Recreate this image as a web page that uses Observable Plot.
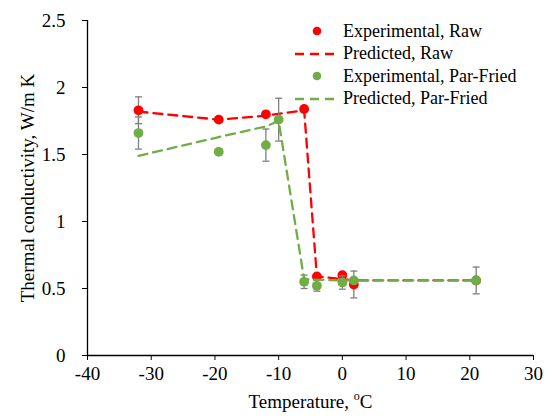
<!DOCTYPE html>
<html>
<head>
<meta charset="utf-8">
<script src="https://cdn.jsdelivr.net/npm/d3@7"></script>
<script src="https://cdn.jsdelivr.net/npm/@observablehq/plot@0.6"></script>
<style>
  html, body { margin: 0; padding: 0; background: #fff; }
  #wrap { position: relative; width: 552px; height: 420px; font-family: "Liberation Serif", "Times New Roman", serif; }
  #legend { position: absolute; left: 292px; top: 20px; font-size: 18px; color: #000; }
  #legend .row { display: flex; align-items: center; height: 22.5px; }
  #legend .sym { width: 50px; height: 22px; display: flex; align-items: center; justify-content: center; }
  #legend svg { display: block; }
  #legend .lab { margin-left: 1px; white-space: nowrap; }
</style>
</head>
<body>
<div id="wrap"></div>
<script>
// ---- data ----
const tempRaw   = [-32, -19.4, -12, -6, -4, 0, 1.8, 21];
const kRawExp   = [1.83, 1.76, 1.80, 1.84, 0.59, 0.60, 0.53, 0.56];
const kRawErr   = [0.10, 0, 0, 0, 0, 0, 0.10, 0.10];
const kRawPred  = [1.82, 1.76, 1.79, 1.83, 0.59, 0.57, 0.56, 0.56];

const tempPF    = [-32, -19.4, -12, -10, -6, -4, 0, 1.8, 21];
const kPFExp    = [1.66, 1.52, 1.57, 1.76, 0.55, 0.52, 0.545, 0.56, 0.56];
const kPFErr    = [0.12, 0, 0.12, 0.16, 0.05, 0.04, 0.05, 0, 0];
const kPFPred   = [1.49, 1.63, 1.71, 1.75, 0.57, 0.565, 0.56, 0.56, 0.56];

const xTicks = [-40, -30, -20, -10, 0, 10, 20, 30];
const yTicks = [0, 0.5, 1, 1.5, 2, 2.5];
const seriesNames = ["Experimental, Raw", "Predicted, Raw", "Experimental, Par-Fried", "Predicted, Par-Fried"];
const xTitle = "Temperature, oC";
const yTitle = "Thermal conductivity, W/m K";

// ---- build tables ----
const raw = tempRaw.map((t, i) => ({t, k: kRawExp[i], e: kRawErr[i], p: kRawPred[i]}));
const pf  = tempPF.map((t, i) => ({t, k: kPFExp[i], e: kPFErr[i], p: kPFPred[i]}));
const rawE = raw.filter(d => d.e > 0);
const pfE  = pf.filter(d => d.e > 0);

const RED = "#ff0000", GREEN = "#70ad47", GRAY = "#7f7f7f";
const FONT = "Liberation Serif, Times New Roman, serif";
const cap = { draw(ctx) { ctx.moveTo(-3.5, 0); ctx.lineTo(3.5, 0); } };

function errMarks(data) {
  return [
    Plot.ruleX(data, {x: "t", y1: d => d.k - d.e, y2: d => d.k + d.e, stroke: GRAY, strokeWidth: 1.3}),
    Plot.dot(data, {x: "t", y: d => d.k + d.e, symbol: cap, stroke: GRAY, strokeWidth: 1.3, fill: "none", r: 3}),
    Plot.dot(data, {x: "t", y: d => d.k - d.e, symbol: cap, stroke: GRAY, strokeWidth: 1.3, fill: "none", r: 3})
  ];
}

const chart = Plot.plot({
  width: 552, height: 420,
  marginLeft: 87, marginRight: 19, marginTop: 20, marginBottom: 65,
  style: {fontFamily: FONT, fontSize: "19px", color: "#000", background: "#fff", overflow: "visible"},
  x: {domain: [-40, 30]},
  y: {domain: [0, 2.5]},
  marks: [
    Plot.axisX({ticks: xTicks, tickFormat: d => String(d), tickSize: 5, tickPadding: 6, label: null, stroke: "#000", fontSize: 19, fontFamily: FONT}),
    Plot.axisY({ticks: yTicks, tickFormat: d => String(d), tickSize: 5, tickPadding: 17, label: null, stroke: "#000", fontSize: 19, fontFamily: FONT}),
    Plot.ruleY([0], {stroke: "#000", strokeWidth: 1.3}),
    Plot.ruleX([-40], {stroke: "#000", strokeWidth: 1.3}),
    // series 1: experimental raw
    ...errMarks(rawE),
    Plot.dot(raw, {x: "t", y: "k", r: 4.9, fill: RED}),
    // series 2: predicted raw
    Plot.line(raw, {x: "t", y: "p", stroke: RED, strokeWidth: 2.3, strokeDasharray: "9,6"}),
    // series 3: experimental par-fried
    ...errMarks(pfE),
    Plot.dot(pf, {x: "t", y: "k", r: 4.9, fill: GREEN}),
    // series 4: predicted par-fried
    Plot.line(pf, {x: "t", y: "p", stroke: GREEN, strokeWidth: 2.3, strokeDasharray: "9,6"}),
    // axis titles
    Plot.text([xTitle], {frameAnchor: "bottom", dy: 52, text: d => d, fontSize: 19, fontFamily: FONT, fill: "#000", textAnchor: "middle", className: "xtitle"}),
    Plot.text([yTitle], {frameAnchor: "left", dx: -60, rotate: -90, text: d => d, fontSize: 19, fontFamily: FONT, fill: "#000", textAnchor: "middle"})
  ]
});

// superscript "o" in the x-axis title
d3.select(chart).selectAll("g.xtitle text").each(function() {
  const el = d3.select(this);
  el.text(null);
  el.append("tspan").text("Temperature, ");
  el.append("tspan").attr("font-size", "12px").attr("dy", "-0.6em").text("o");
  el.append("tspan").attr("dy", "0.38em").text("C");
});

const wrap = document.getElementById("wrap");
wrap.appendChild(chart);

// legend (HTML overlay inside the plot area)
const legend = document.createElement("div");
legend.id = "legend";
const items = [
  {name: seriesNames[0], type: "dot", color: RED},
  {name: seriesNames[1], type: "line", color: RED},
  {name: seriesNames[2], type: "dot", color: GREEN},
  {name: seriesNames[3], type: "line", color: GREEN}
];
for (const it of items) {
  const row = document.createElement("div");
  row.className = "row";
  const sym = document.createElement("div");
  sym.className = "sym";
  const s = d3.create("svg").attr("width", 50).attr("height", 22);
  if (it.type === "dot") s.append("circle").attr("cx", 25).attr("cy", 11).attr("r", 4.3).attr("fill", it.color);
  else s.append("line").attr("x1", 3).attr("x2", 47).attr("y1", 11).attr("y2", 11).attr("stroke", it.color).attr("stroke-width", 2.3).attr("stroke-dasharray", "9,6");
  sym.appendChild(s.node());
  const lab = document.createElement("span");
  lab.className = "lab";
  lab.textContent = it.name;
  row.appendChild(sym);
  row.appendChild(lab);
  legend.appendChild(row);
}
wrap.appendChild(legend);
</script>
</body>
</html>
